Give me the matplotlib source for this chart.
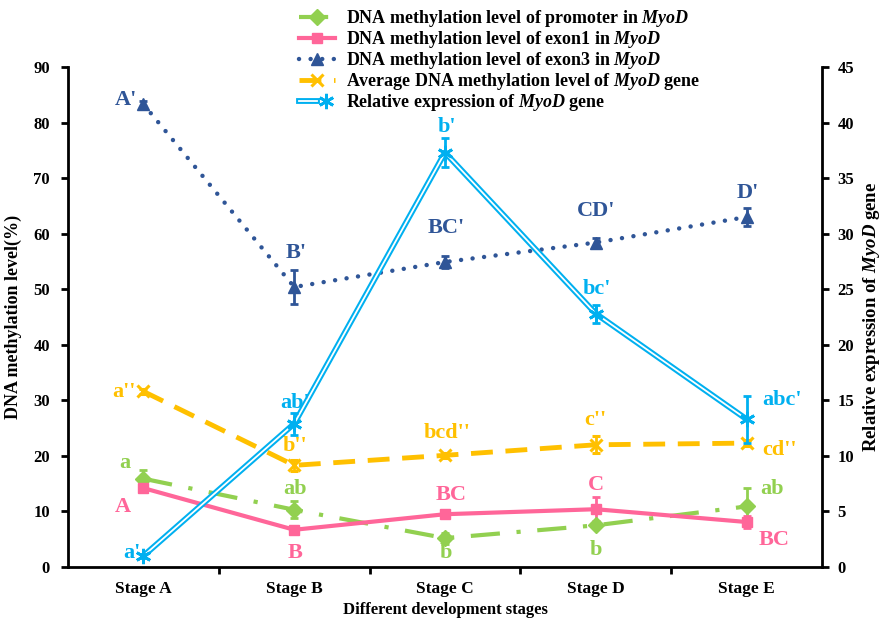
import matplotlib
matplotlib.use("Agg")
import matplotlib.pyplot as plt
import matplotlib.patheffects as pe
from matplotlib.lines import Line2D
from matplotlib.legend_handler import HandlerTuple
import numpy as np

plt.rcParams['font.family'] = ['Liberation Serif', 'DejaVu Serif']
plt.rcParams['font.weight'] = 'bold'
plt.rcParams['mathtext.fontset'] = 'custom'
plt.rcParams['mathtext.it'] = 'Liberation Serif:bold:italic'
plt.rcParams['mathtext.rm'] = 'Liberation Serif:bold'

stages = ["Stage A", "Stage B", "Stage C", "Stage D", "Stage E"]

promoter = [15.9, 10.3, 5.2, 7.5, 10.9]
promoter_err = [1.5, 1.5, 1.0, 0.5, 3.4]
promoter_lab = ["a", "ab", "b", "b", "ab"]

exon1 = [14.2, 6.7, 9.5, 10.4, 8.1]
exon1_err = [0.4, 0.4, 0.3, 2.2, 1.0]
exon1_lab = ["A", "B", "BC", "C", "BC"]

exon3 = [83.3, 50.4, 54.9, 58.4, 63.0]
exon3_err = [0.5, 3.0, 1.0, 0.9, 1.6]
exon3_lab = ["A'", "B'", "BC'", "CD'", "D'"]

average = [31.6, 18.3, 20.1, 22.0, 22.3]
average_err = [0.4, 1.0, 0.4, 1.5, 0.5]
average_lab = ["a''", "b''", "bcd''", "c''", "cd''"]

expression = [1.0, 12.9, 37.3, 22.8, 13.3]
expression_err = [0.2, 1.0, 1.3, 0.8, 2.1]
expression_lab = ["a'", "ab'", "b'", "bc'", "abc'"]

c_green = '#92D050'
c_pink = '#FF6699'
c_dblue = '#2F5597'
c_orange = '#FFC000'
c_lblue = '#00B0F0'

fig = plt.figure(figsize=(8.82, 6.24), dpi=100)
ax = fig.add_axes([68/882, 57/624, (822-68)/882, (567-67)/624])
ax2 = ax.twinx()

x = np.arange(len(stages))

ls_green = (0, (7, 4, 1, 4))
ls_dblue = (0, (0.01, 2.6))
ls_orange = (0, (4.5, 2.6))
dbl = [pe.Normal(), pe.Stroke(linewidth=1.3, foreground='white')]

l1 = ax.errorbar(x, promoter, yerr=promoter_err, color=c_green, lw=3,
                 linestyle=ls_green, marker='D', ms=8, capsize=3,
                 elinewidth=2, capthick=2)
l2 = ax.errorbar(x, exon1, yerr=exon1_err, color=c_pink, lw=3, linestyle='-',
                 marker='s', ms=7, capsize=3, elinewidth=2, capthick=2)
l3 = ax.errorbar(x, exon3, yerr=exon3_err, color=c_dblue, lw=3.2,
                 linestyle=ls_dblue, marker='^', ms=9, capsize=3,
                 elinewidth=2, capthick=2)
l3[0].set_dash_capstyle('round')
l4 = ax.errorbar(x, average, yerr=average_err, color=c_orange, lw=3.5,
                 linestyle=ls_orange, marker='x', ms=8, mew=2.2,
                 capsize=3, elinewidth=2, capthick=2)
ln5, = ax2.plot(x, expression, color=c_lblue, lw=4.2, linestyle='-')
ln5.set_path_effects(dbl)
l5 = ax2.errorbar(x, expression, yerr=expression_err, color=c_lblue,
                  linestyle='none', marker=(6, 2, 0), ms=11, mew=2,
                  capsize=3, elinewidth=2, capthick=2)

ax.set_xlim(-0.5, 4.5)
ax.set_ylim(0, 90)
ax2.set_ylim(0, 45)
ax.set_yticks(np.arange(0, 91, 10))
ax2.set_yticks(np.arange(0, 46, 5))

ax.set_xticks([0.5, 1.5, 2.5, 3.5])
ax.set_xticklabels([])
ax.set_xticks(x, minor=True)
ax.set_xticklabels(stages, minor=True, fontsize=12.5, fontweight='bold')
ax.tick_params(axis='x', which='minor', length=0, pad=10)
ax.tick_params(axis='x', which='major', length=5, width=2, direction='out')
ax.tick_params(axis='y', length=5, width=2, direction='out', labelsize=12, pad=8)
ax2.tick_params(axis='y', length=5, width=2, direction='out', labelsize=12, pad=6)

for a in (ax, ax2):
    a.spines['top'].set_visible(False)
    for s in ('left', 'right', 'bottom'):
        a.spines[s].set_linewidth(2)
ax.spines['right'].set_visible(False)
ax2.spines['left'].set_visible(False)
ax2.spines['bottom'].set_visible(False)

ax.set_xlabel('Different development stages', fontsize=12, fontweight='bold', labelpad=4)
ax.set_ylabel('DNA methylation level(%)', fontsize=13, fontweight='bold', labelpad=8)
ax2.set_ylabel(r'Relative expression of $\mathit{MyoD}$ gene', fontsize=13.5,
               fontweight='bold', rotation=90, labelpad=5)

def lab(axis, xs, ys, texts, offs, color, fs=16):
    for xi, yi, t, (dx, dy, ha) in zip(xs, ys, texts, offs):
        axis.annotate(t, (xi, yi), xytext=(dx, dy), textcoords='offset pixels',
                      ha=ha, va='center', color=color, fontsize=fs,
                      fontweight='bold', annotation_clip=False)

lab(ax, x, exon3, exon3_lab,
    [(-6, 4, 'right'), (2, 34, 'center'), (1, 34, 'center'), (0, 32, 'center'), (1, 24, 'center')],
    c_dblue)
lab(ax2, x, expression, expression_lab,
    [(-3, 3, 'right'), (1, 21, 'center'), (2, 26, 'center'), (1, 25, 'center'), (16, 19, 'left')],
    c_lblue)
lab(ax, x, average, average_lab,
    [(-8, -1, 'right'), (1, 19, 'center'), (2, 22, 'center'), (0, 25, 'center'), (16, -7, 'left')],
    c_orange)
lab(ax, x, promoter, promoter_lab,
    [(-13, 16, 'right'), (1, 21, 'center'), (1, -15, 'center'), (0, -25, 'center'), (14, 17, 'left')],
    c_green)
lab(ax, x, exon1, exon1_lab,
    [(-12, -19, 'right'), (1, -23, 'center'), (6, 19, 'center'), (0, 24, 'center'), (12, -18, 'left')],
    c_pink)

h5_line = Line2D([], [], color=c_lblue, lw=4.2, path_effects=dbl)
h5_mark = Line2D([], [], color=c_lblue, linestyle='none', marker=(6, 2, 0), ms=11, mew=2)
handles = [l1[0], l2[0], l3[0], l4[0], (h5_line, h5_mark)]
labels = [r'DNA methylation level of promoter in $\mathit{MyoD}$',
          r'DNA methylation level of exon1 in $\mathit{MyoD}$',
          r'DNA methylation level of exon3 in $\mathit{MyoD}$',
          r'Average DNA methylation level of $\mathit{MyoD}$ gene',
          r'Relative expression of $\mathit{MyoD}$ gene']
leg = fig.legend(handles=handles, labels=labels, loc='upper left',
                 bbox_to_anchor=(299/882, 1.0 - 8/624),
                 frameon=False, fontsize=13, handlelength=2.0, labelspacing=0.0,
                 handletextpad=0.6, borderaxespad=0, borderpad=0,
                 handler_map={tuple: HandlerTuple(ndivide=None)})
for t in leg.get_texts():
    t.set_fontweight('bold')

fig.savefig('out.png', dpi=100)
